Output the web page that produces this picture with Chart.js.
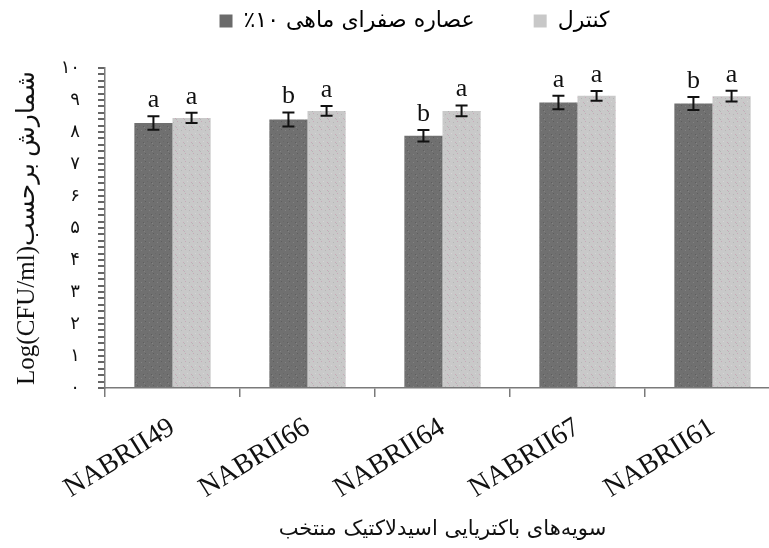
<!DOCTYPE html>
<html>
<head>
<meta charset="utf-8">
<script src="https://cdn.jsdelivr.net/npm/chart.js@4/dist/chart.umd.min.js"></script>
<style>
  html, body { margin: 0; padding: 0; background: #fff; overflow: hidden; width: 769px; height: 548px; }
  #wrap { width: 781px; height: 548px; }
</style>
</head>
<body>
<div id="wrap"><canvas id="c" width="781" height="548"></canvas></div>
<script>
const categories = ['NABRII49', 'NABRII66', 'NABRII64', 'NABRII67', 'NABRII61'];
const bileLabel = 'عصاره صفرای ماهی ۱۰٪';
const controlLabel = 'کنترل';
const bileValues = [8.28, 8.39, 7.88, 8.92, 8.89];
const bileErrors = [0.21, 0.22, 0.18, 0.21, 0.20];
const controlValues = [8.44, 8.66, 8.66, 9.13, 9.12];
const controlErrors = [0.16, 0.15, 0.17, 0.15, 0.17];
const bileLetters = ['a', 'b', 'b', 'a', 'b'];
const controlLetters = ['a', 'a', 'a', 'a', 'a'];
const yTickLabels = ['۰', '۱', '۲', '۳', '۴', '۵', '۶', '۷', '۸', '۹', '۱۰'];
const yTitle = 'Log(CFU/ml)شمارش برحسب';
const xTitle = 'سویه‌های باکتریایی اسیدلاکتیک منتخب';

function makePattern(base, dots) {
  const p = document.createElement('canvas');
  p.width = 8; p.height = 8;
  const g = p.getContext('2d');
  g.fillStyle = base; g.fillRect(0, 0, 8, 8);
  const pts = [[1, 1], [5, 2], [3, 5], [7, 6], [0, 7]];
  pts.forEach((pt, i) => { g.fillStyle = dots[i % dots.length]; g.fillRect(pt[0], pt[1], 1, 1); });
  return document.getElementById('c').getContext('2d').createPattern(p, 'repeat');
}
const darkFill = makePattern('#707070', ['#5e5e5e', '#838383', '#686868']);
const lightFill = makePattern('#c9c9c9', ['#c7a9b8', '#b5b5b5', '#d6d6d6']);

const errorPlugin = {
  id: 'errorBars',
  afterDatasetsDraw(chart) {
    const ctx = chart.ctx;
    const y = chart.scales.y;
    const sets = [[bileValues, bileErrors, bileLetters], [controlValues, controlErrors, controlLetters]];
    sets.forEach((s, di) => {
      const meta = chart.getDatasetMeta(di);
      meta.data.forEach((bar, i) => {
        const top = y.getPixelForValue(s[0][i] + s[1][i]);
        const bot = y.getPixelForValue(s[0][i] - s[1][i]);
        const x = bar.x;
        ctx.save();
        ctx.strokeStyle = '#111';
        ctx.lineWidth = 2;
        ctx.beginPath();
        ctx.moveTo(x, top); ctx.lineTo(x, bot);
        ctx.moveTo(x - 6, top); ctx.lineTo(x + 6, top);
        ctx.moveTo(x - 6, bot); ctx.lineTo(x + 6, bot);
        ctx.stroke();
        ctx.fillStyle = '#111';
        ctx.font = '26px "Liberation Serif"';
        ctx.textAlign = 'center';
        ctx.textBaseline = 'alphabetic';
        ctx.fillText(s[2][i], x, top - 9);
        ctx.restore();
      });
    });
  }
};

new Chart(document.getElementById('c'), {
  type: 'bar',
  data: {
    labels: categories,
    datasets: [
      { label: bileLabel, data: bileValues, backgroundColor: darkFill, borderWidth: 0 },
      { label: controlLabel, data: controlValues, backgroundColor: lightFill, borderWidth: 0 }
    ]
  },
  options: {
    responsive: false,
    animation: false,
    layout: { padding: { left: 0, right: 1, top: 0, bottom: 0 } },
    datasets: { bar: { barPercentage: 1, categoryPercentage: 0.565 } },
    plugins: {
      tooltip: { enabled: false },
      legend: {
        position: 'top',
        fullSize: false,
        textDirection: 'rtl',
        labels: {
          boxWidth: 13, boxHeight: 13, padding: 10,
          color: '#111',
          font: { family: 'DejaVu Sans', size: 22 },
          generateLabels(chart) {
            const pads = ['\u00a0'.repeat(7), '\u00a0'.repeat(8)];
            return chart.data.datasets.map((d, i) => ({
              text: pads[i] + d.label,
              fillStyle: i === 0 ? '#6b6b6b' : '#c8c8c8',
              strokeStyle: 'rgba(0,0,0,0)', lineWidth: 0, datasetIndex: i
            }));
          }
        }
      }
    },
    scales: {
      x: {
        grid: { display: true, drawOnChartArea: false, offset: true, tickLength: 9, color: '#7a7a7a', lineWidth: 1.5 },
        border: { display: true, color: '#7a7a7a', width: 1.5 },
        ticks: {
          color: '#111', autoSkip: false, minRotation: 32, maxRotation: 32, padding: 14,
          font: { family: 'Liberation Serif', size: 28 }
        },
        title: { display: true, text: xTitle, color: '#111', font: { family: 'DejaVu Sans', size: 21 }, padding: { top: 0, bottom: 6 } },
        afterFit(scale) { scale.height = 160; }
      },
      xTop: {
        type: 'category', position: 'top', display: true,
        grid: { display: false }, border: { display: false }, ticks: { display: false },
        afterFit(scale) { scale.height = 26; }
      },
      y: {
        min: 0, max: 10,
        grid: { display: true, drawOnChartArea: false, tickLength: 7, lineWidth: 2, color: '#666666' },
        border: { display: true, color: '#7a7a7a', width: 1.5 },
        ticks: {
          stepSize: 0.2, maxTicksLimit: 100, autoSkip: false, padding: 18, color: '#111',
          font: { family: 'DejaVu Sans', size: 18 },
          callback(v) { const r = Math.round(v); return Math.abs(v - r) < 1e-6 ? yTickLabels[r] : ''; }
        },
        title: { display: true, text: yTitle, color: '#111', font: { family: 'Liberation Serif, DejaVu Sans', size: 25 }, padding: { top: 12, bottom: 0 } },
        afterFit(scale) { scale.width = 105; }
      }
    }
  },
  plugins: [errorPlugin]
});
</script>
</body>
</html>
